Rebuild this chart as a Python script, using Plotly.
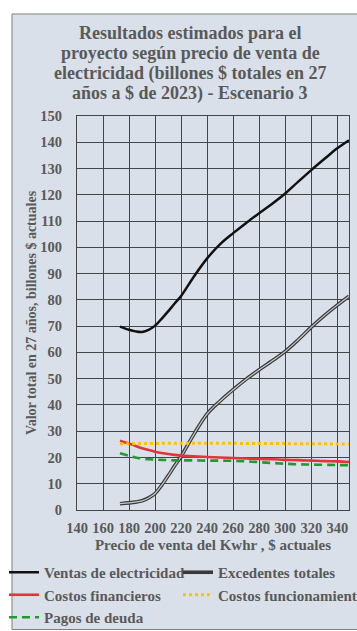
import plotly.graph_objects as go

# ---- data ----
precio = [173, 180, 185, 190, 195, 200, 205, 210, 215, 220, 230, 240, 250,
          260, 270, 280, 290, 300, 310, 320, 330, 340, 349]

ventas = [69.8, 68.6, 68.0, 67.8, 68.6, 70.2, 72.8, 75.6, 78.6, 81.5, 89.0,
          95.8, 101.2, 105.4, 109.3, 113.0, 116.6, 120.5, 125.0, 129.4,
          133.6, 137.7, 140.8]

excedentes = [2.4, 2.7, 3.0, 3.5, 4.6, 6.3, 9.4, 13.0, 16.8, 20.4, 29.0,
              36.6, 41.5, 45.8, 49.8, 53.4, 56.8, 60.4, 64.8, 69.6, 74.0,
              78.0, 81.4]

financieros = [26.4, 25.3, 24.4, 23.5, 22.8, 22.2, 21.7, 21.3, 21.0, 20.7,
               20.4, 20.2, 20.0, 19.8, 19.6, 19.4, 19.3, 19.1, 19.0, 18.8,
               18.6, 18.5, 18.3]

funcionamiento = [25.2, 25.2, 25.3, 25.3, 25.3, 25.3, 25.4, 25.4, 25.4, 25.4,
                  25.4, 25.4, 25.4, 25.4, 25.3, 25.3, 25.3, 25.3, 25.2, 25.2,
                  25.2, 25.1, 25.1]

pagos = [21.6, 20.6, 20.0, 19.6, 19.3, 19.2, 19.1, 19.0, 18.9, 18.9, 18.9,
         18.8, 18.8, 18.7, 18.5, 18.2, 17.9, 17.6, 17.4, 17.3, 17.2, 17.1,
         17.1]

x_ticks = [140, 160, 180, 200, 220, 240, 260, 280, 300, 320, 340]
y_ticks = list(range(0, 151, 10))

title_lines = ["Resultados estimados para el",
               "proyecto según precio de venta de",
               "electricidad (billones $ totales en 27",
               "años a $ de 2023) - Escenario 3"]

# ---- layout geometry ----
W, H = 357, 631
L, R, T, B = 77, 8, 116, 121
PW, PH = W - L - R, H - T - B


def px_x(px):
    return (px - L) / PW


def px_y(py):
    return (H - B - py) / PH


SERIF = "Liberation Serif, Times New Roman, serif"
TXT = "#595959"
BG = "#dae0e9"
GRID = "#454545"

fig = go.Figure()

fig.add_trace(go.Scatter(x=precio, y=ventas, name="Ventas de electricidad",
                         mode="lines", line=dict(color="#111111", width=2.5, shape="spline"),
                         legend="legend", legendgroup="a"))
fig.add_trace(go.Scatter(x=precio, y=excedentes, name="Excedentes totales",
                         mode="lines", line=dict(color="#3a3a3a", width=3.6, shape="spline"),
                         legend="legend2", legendgroup="b"))
fig.add_trace(go.Scatter(x=precio, y=excedentes, name="Excedentes totales",
                         mode="lines", line=dict(color="#c8c8c8", width=1.2, shape="spline"),
                         showlegend=False, hoverinfo="skip", legendgroup="b",
                         legend="legend2"))
fig.add_trace(go.Scatter(x=precio, y=financieros, name="Costos financieros",
                         mode="lines", line=dict(color="#e0363a", width=2.6, shape="spline"),
                         legend="legend", legendgroup="c"))
fig.add_trace(go.Scatter(x=precio, y=funcionamiento, name="Costos funcionamiento",
                         mode="lines", line=dict(color="#ffc000", width=3, dash="dot", shape="spline"),
                         legend="legend2", legendgroup="d"))
fig.add_trace(go.Scatter(x=precio, y=pagos, name="Pagos de deuda",
                         mode="lines", line=dict(color="#1e9a2e", width=2.6, dash="8px,5px", shape="spline"),
                         legend="legend", legendgroup="e"))

# frame of the chart area
fig.add_shape(type="rect", xref="paper", yref="paper",
              x0=px_x(12), x1=px_x(365), y0=px_y(629.5), y1=px_y(14),
              fillcolor=BG, line=dict(color="#808080", width=1), layer="below")

# title lines
for i, t in enumerate(title_lines):
    fig.add_annotation(text=t, xref="paper", yref="paper",
                       x=px_x(190), y=px_y(32.5 + i * 20.5), xanchor="center", yanchor="middle",
                       showarrow=False,
                       font=dict(family=SERIF, size=18, color=TXT, weight="bold"))

legend_font = dict(family=SERIF, size=15, color=TXT, weight="bold")

fig.update_layout(
    width=W, height=H,
    margin=dict(l=L, r=R, t=T, b=B, autoexpand=False),
    paper_bgcolor="white",
    plot_bgcolor="rgba(0,0,0,0)",
    font=dict(family=SERIF, color=TXT),
    legend=dict(x=px_x(4), y=px_y(556), xanchor="left", yanchor="top",
                orientation="v", bgcolor="rgba(0,0,0,0)", font=legend_font,
                traceorder="grouped", tracegroupgap=0),
    legend2=dict(x=px_x(178), y=px_y(556), xanchor="left", yanchor="top",
                 orientation="v", bgcolor="rgba(0,0,0,0)", font=legend_font,
                 traceorder="grouped", tracegroupgap=0),
)

fig.update_xaxes(range=[140, 349], tickmode="array", tickvals=x_ticks,
                 ticktext=[str(v) for v in x_ticks],
                 showgrid=True, gridcolor=GRID, gridwidth=1,
                 showline=True, linecolor=GRID, linewidth=1, mirror=True,
                 zeroline=False, ticks="", ticklabelstandoff=5,
                 tickfont=dict(family=SERIF, size=14.5, color=TXT, weight="bold"),
                 title=dict(text="Precio de venta del Kwhr , $ actuales", standoff=4,
                            font=dict(family=SERIF, size=15, color=TXT, weight="bold")))

fig.update_yaxes(range=[0, 150], tickmode="array", tickvals=y_ticks,
                 ticktext=[str(v) for v in y_ticks],
                 showgrid=True, gridcolor=GRID, gridwidth=1,
                 showline=True, linecolor=GRID, linewidth=1, mirror=True,
                 zeroline=False, ticks="", ticklabelstandoff=11,
                 tickfont=dict(family=SERIF, size=14.5, color=TXT, weight="bold"),
                 title=dict(text="Valor total en 27 años, billones $ actuales", standoff=0,
                            font=dict(family=SERIF, size=14, color=TXT, weight="bold")))

fig.write_html("out.html", config={"displayModeBar": False},
               post_script="document.body.style.margin='0';document.body.style.overflow='hidden';")
